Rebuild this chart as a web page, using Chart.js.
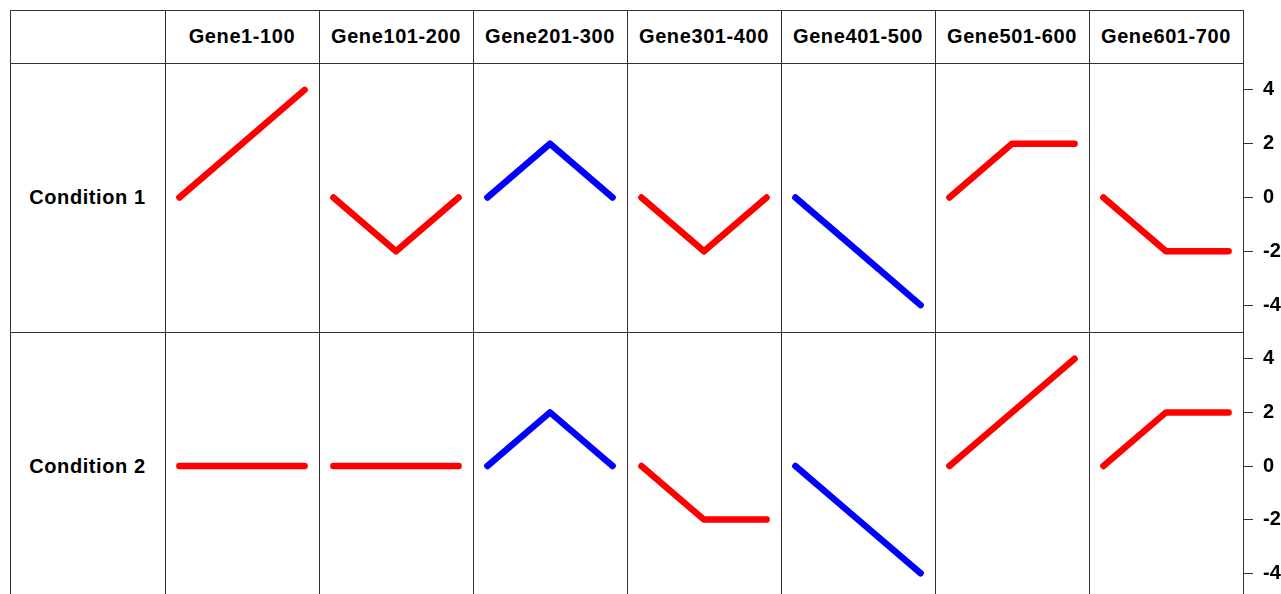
<!DOCTYPE html>
<html>
<head>
<meta charset="utf-8">
<script src="https://cdn.jsdelivr.net/npm/chart.js@4"></script>
<style>
  body { margin: 0; background: #fff; width: 1281px; height: 594px; overflow: hidden; position: relative;
         font-family: "Liberation Sans", Arial, sans-serif; }
  .line { position: absolute; background: #333; }
  .label { position: absolute; display: flex; align-items: center; justify-content: center;
           font-weight: bold; font-size: 20px; letter-spacing: 0.6px; color: #000; }
  .cell { position: absolute; }
</style>
</head>
<body>
<script>
// ---- data ----
const genes = ["Gene1-100", "Gene101-200", "Gene201-300", "Gene301-400", "Gene401-500", "Gene501-600", "Gene601-700"];
const conditions = ["Condition 1", "Condition 2"];
const steps = [0, 1, 2];
const cond1 = [[0, 2, 4], [0, -2, 0], [0, 2, 0], [0, -2, 0], [0, -2, -4], [0, 2, 2], [0, -2, -2]];
const cond2 = [[0, 0, 0], [0, 0, 0], [0, 2, 0], [0, -2, -2], [0, -2, -4], [0, 2, 4], [0, 2, 2]];
const lineColors = ["#ff0000", "#ff0000", "#0000ff", "#ff0000", "#0000ff", "#ff0000", "#ff0000"];
const yTicks = [-4, -2, 0, 2, 4];
const values = [cond1, cond2];

// ---- layout ----
const left = 10, top0 = 10, labelW = 155, colW = 154, headH = 53;
const rowH = [269, 268];
const axisW = 38;

function addLine(x, y, w, h) {
  const d = document.createElement("div");
  d.className = "line";
  Object.assign(d.style, { left: x + "px", top: y + "px", width: w + "px", height: h + "px" });
  document.body.appendChild(d);
}
function addLabel(text, x, y, w, h) {
  const d = document.createElement("div");
  d.className = "label";
  d.textContent = text;
  Object.assign(d.style, { left: x + "px", top: y + "px", width: w + "px", height: h + "px" });
  document.body.appendChild(d);
}

const gridRight = left + labelW + colW * genes.length;
const rowTop = [top0 + headH, top0 + headH + rowH[0]];

// header + labels
genes.forEach((g, i) => addLabel(g, left + labelW + i * colW, top0, colW, headH));
conditions.forEach((c, r) => addLabel(c, left, rowTop[r], labelW, rowH[r]));

// charts
values.forEach((rowVals, r) => {
  rowVals.forEach((vals, c) => {
    const isLast = c === genes.length - 1;
    const div = document.createElement("div");
    div.className = "cell";
    Object.assign(div.style, {
      left: (left + labelW + c * colW) + "px",
      top: rowTop[r] + "px",
      width: (colW + (isLast ? axisW : 0)) + "px",
      height: rowH[r] + "px",
    });
    const cv = document.createElement("canvas");
    div.appendChild(cv);
    document.body.appendChild(div);

    const yScale = { min: -5, max: 5, display: false };
    if (isLast) {
      Object.assign(yScale, {
        display: true,
        position: "right",
        afterBuildTicks: (scale) => { scale.ticks = yTicks.map((v) => ({ value: v })); },
        afterFit: (scale) => {
          scale.width = axisW;
          scale.paddingTop = 0;
          scale.paddingBottom = 0;
        },
        border: { display: false },
        grid: { drawOnChartArea: false, color: "#333", tickLength: 10, tickColor: "#333" },
        ticks: {
          color: "#000",
          padding: 10,
          font: { family: "Liberation Sans", weight: "bold", size: 20 },
        },
      });
    }

    new Chart(cv.getContext("2d"), {
      type: "line",
      data: {
        datasets: [{
          data: steps.map((s, k) => ({ x: s, y: vals[k] })),
          borderColor: lineColors[c],
          borderWidth: 6.5,
          borderCapStyle: "round",
          borderJoinStyle: "round",
          pointRadius: 0,
          tension: 0,
        }],
      },
      options: {
        responsive: true,
        maintainAspectRatio: false,
        animation: false,
        layout: { padding: 0 },
        plugins: { legend: { display: false }, tooltip: { enabled: false } },
        scales: {
          x: { type: "linear", min: -0.23, max: 2.23, display: false },
          y: yScale,
        },
      },
    });
  });
});

// grid lines
addLine(left, top0, gridRight - left + 1, 1);
addLine(left, top0 + headH, gridRight - left + 1, 1);
addLine(left, rowTop[1], gridRight - left + 1, 1);
addLine(left, top0, 1, 600);
for (let i = 0; i <= genes.length; i++) {
  addLine(left + labelW + i * colW, top0, 1, 600);
}
</script>
</body>
</html>
